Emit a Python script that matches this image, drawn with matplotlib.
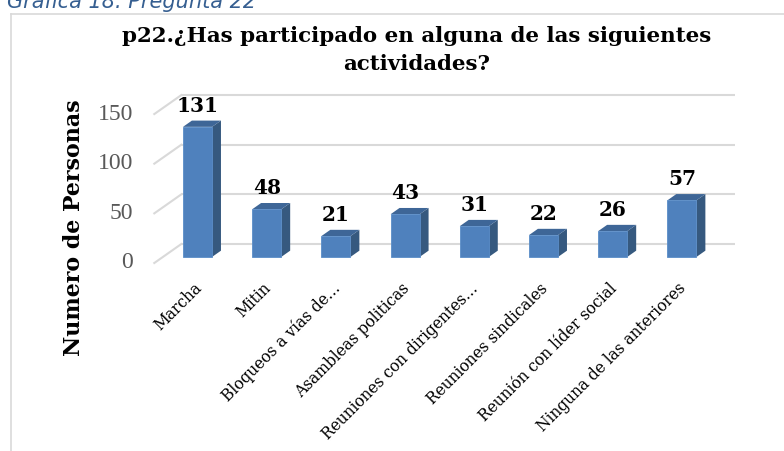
import matplotlib
matplotlib.use("Agg")
import matplotlib.pyplot as plt
from matplotlib.lines import Line2D

# data
categories = ['Marcha', 'Mitin', 'Bloqueos a vías de...', 'Asambleas politicas',
              'Reuniones con dirigentes...', 'Reuniones sindicales',
              'Reunión con líder social', 'Ninguna de las anteriores']
values = [131, 48, 21, 43, 31, 22, 26, 57]
yticks = [0, 50, 100, 150]
title_lines = ['p22.¿Has participado en alguna de las siguientes', 'actividades?']
ylabel = 'Numero de Personas'
caption = 'Gráfica 18. Pregunta 22'

W, H = 784, 451
fig = plt.figure(figsize=(W / 100, H / 100), dpi=100)

# pixel anchors for the fake 3d projection
PX0, PXU = 188.9, 69.2   # px of category 0 (front), px per category
PY0, PYU = 263.0, 0.993  # px of value 0 (front), px per unit
DX, DY = 0.39, 19.1      # full depth offset (categories, units)
d0, d1 = 0.32, 0.65      # bar front/back depth
bw = 0.42

xlim = (-1.2, 8.3)
ylim = (-25, 190)
lpx = PX0 + xlim[0] * PXU
rpx = PX0 + xlim[1] * PXU
tpx = PY0 - ylim[1] * PYU
bpx = PY0 - ylim[0] * PYU
ax = fig.add_axes([lpx / W, 1 - bpx / H, (rpx - lpx) / W, (bpx - tpx) / H])
ax.set_xlim(*xlim)
ax.set_ylim(*ylim)
ax.axis('off')

n = len(categories)
grid_c = '#D9D9D9'
for t in yticks:
    # back wall line + left wall diagonal
    ax.plot([-0.5 + DX, n - 0.5 + DX], [t + DY, t + DY], color=grid_c, lw=1.5, zorder=1,
            solid_capstyle='butt')
    ax.plot([-0.5, -0.5 + DX], [t, t + DY], color=grid_c, lw=1.5, zorder=1)
    ax.text(-0.81, t, str(t), ha='right', va='center', fontsize=17,
            family='Liberation Serif', color='#595959')

front_c = '#4F81BD'
side_c = '#36597F'
top_c = '#3E6697'
for i, v in enumerate(values):
    x0 = i - bw / 2 + d0 * DX
    x1 = i + bw / 2 + d0 * DX
    y0 = d0 * DY
    ox = (d1 - d0) * DX
    oy = (d1 - d0) * DY
    ax.fill([x1, x1 + ox, x1 + ox, x1], [y0, y0 + oy, y0 + v + oy, y0 + v],
            color=side_c, zorder=3, lw=0)
    ax.fill([x0, x0 + ox, x1 + ox, x1], [y0 + v, y0 + v + oy, y0 + v + oy, y0 + v],
            color=top_c, zorder=3, lw=0)
    ax.bar(i + d0 * DX, v, bottom=y0, width=bw, color=front_c, edgecolor='#5A8DC8',
           lw=0.6, zorder=4)
    ax.annotate(str(v), (i + d0 * DX, y0 + v), xytext=(0, 11), textcoords='offset points',
                ha='center', va='baseline', fontsize=14.5, fontweight='bold',
                family='DejaVu Serif', color='black')

for i, lab in enumerate(categories):
    ax.text(i + 0.06, -17, lab, rotation=45, ha='right', va='top', rotation_mode='anchor',
            fontsize=11.2, family='DejaVu Serif', color='black')

# titles and axis label
fig.text(417 / W, 1 - 42 / H, title_lines[0], ha='center', va='baseline', fontsize=15.4,
         fontweight='bold', family='DejaVu Serif')
fig.text(417 / W, 1 - 70 / H, title_lines[1], ha='center', va='baseline', fontsize=15.4,
         fontweight='bold', family='DejaVu Serif')
fig.text(74 / W, 1 - 228 / H, ylabel, rotation=90, ha='center', va='center', fontsize=15.9,
         fontweight='bold', family='DejaVu Serif')

# caption above the chart box, cut at the top edge as in the source
fig.text(7 / W, 1 - 8.5 / H, caption, ha='left', va='baseline', fontsize=15,
         style='italic', color='#365F91', family='DejaVu Sans')

# chart border (only left and top are visible)
fig.add_artist(Line2D([11 / W, 11 / W], [0, 1 - 13.5 / H], transform=fig.transFigure,
                      color=grid_c, lw=1.2))
fig.add_artist(Line2D([11 / W, 1], [1 - 13.5 / H, 1 - 13.5 / H], transform=fig.transFigure,
                      color=grid_c, lw=1.2))

fig.savefig('out.png', dpi=100)
